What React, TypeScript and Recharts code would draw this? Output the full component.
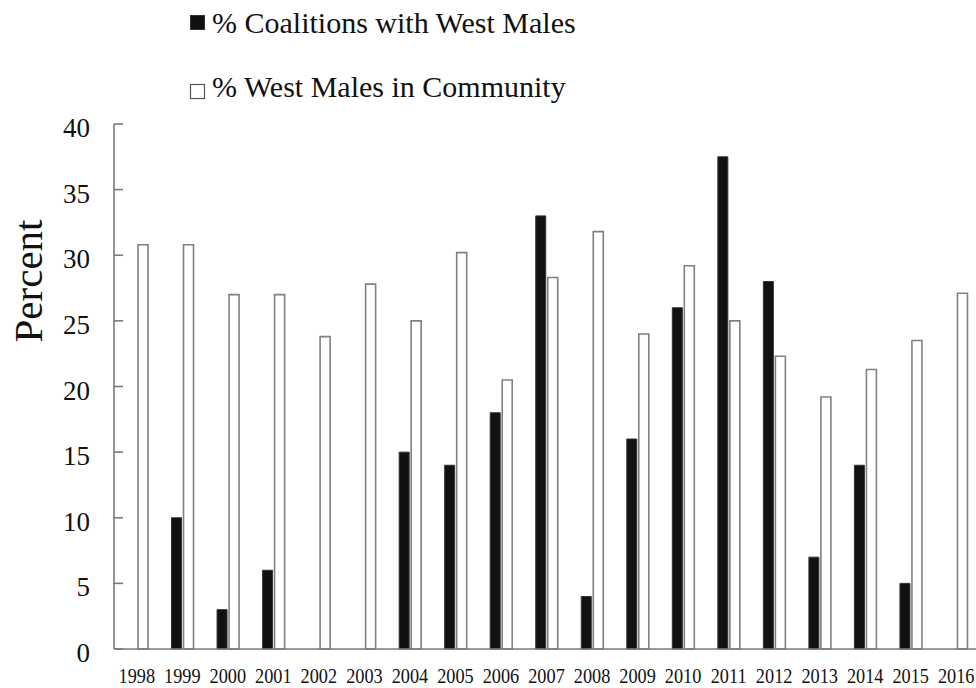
import React from 'react';
import { BarChart, Bar, XAxis, YAxis, Legend } from 'recharts';

const years = ['1998','1999','2000','2001','2002','2003','2004','2005','2006','2007','2008','2009','2010','2011','2012','2013','2014','2015','2016'];
const coalitionsWithWestMales = [0, 10, 3, 6, 0, 0, 15, 14, 18, 33, 4, 16, 26, 37.5, 28, 7, 14, 5, 0];
const westMalesInCommunity = [30.8, 30.8, 27.0, 27.0, 23.8, 27.8, 25.0, 30.2, 20.5, 28.3, 31.8, 24.0, 29.2, 25.0, 22.3, 19.2, 21.3, 23.5, 27.1];
const yTicks = [0, 5, 10, 15, 20, 25, 30, 35, 40];
const seriesNames = ['% Coalitions with West Males', '% West Males in Community'];

const data = years.map((y, i) => ({
  year: y,
  coalitions: coalitionsWithWestMales[i],
  community: westMalesInCommunity[i],
}));

const FONT = '"Liberation Serif", "Times New Roman", serif';
const AXIS = '#7a7a7a';

const YTick = (props: any) => {
  const { x, y, payload } = props;
  return (
    <g>
      <line x1={x} y1={y} x2={x + 9} y2={y} stroke={AXIS} strokeWidth={1.6} />
      <text x={x - 24} y={y + 13} textAnchor="end" fontSize={27} fontFamily={FONT} fill="#111">
        {payload.value}
      </text>
    </g>
  );
};

const XTick = (props: any) => {
  const { x, y, payload } = props;
  return (
    <g transform={`translate(${x},${y + 34})`}>
      <text transform="scale(0.87,1)" textAnchor="middle" fontSize={21} fontFamily={FONT} fill="#111">
        {payload.value}
      </text>
    </g>
  );
};

const LegendContent = () => (
  <svg width={600} height={110} style={{ display: 'block' }}>
    <rect x={190.5} y={15.5} width={14} height={14} fill="#111" stroke="#333" strokeWidth={1} />
    <text x={212} y={33} fontSize={30} fontFamily={FONT} fill="#111">{seriesNames[0]}</text>
    <rect x={190.5} y={84.5} width={14} height={14} fill="#fff" stroke="#555" strokeWidth={1.2} />
    <text x={212} y={97} fontSize={30} fontFamily={FONT} fill="#111">{seriesNames[1]}</text>
  </svg>
);

export default function App() {
  return (
    <div style={{ position: 'absolute', left: 0, top: 0, width: 976, height: 688, overflow: 'hidden', background: '#fff' }}>
      <BarChart
        width={990}
        height={688}
        data={data}
        margin={{ top: 124, right: 11, bottom: 0, left: 0 }}
        barSize={10}
        barGap={2}
      >
        <XAxis
          dataKey="year"
          height={39}
          tickLine={false}
          tickSize={0}
          tickMargin={0}
          axisLine={{ stroke: AXIS, strokeWidth: 1.6 }}
          tick={<XTick />}
          interval={0}
        />
        <YAxis
          width={114}
          domain={[0, 40]}
          ticks={yTicks}
          tickLine={false}
          tickSize={0}
          tickMargin={0}
          axisLine={{ stroke: AXIS, strokeWidth: 1.6 }}
          tick={<YTick />}
          interval={0}
          label={{
            content: () => (
              <text
                x={42}
                y={281}
                transform="rotate(-90, 42, 281)"
                textAnchor="middle"
                fontSize={41}
                fontFamily={FONT}
                fill="#111"
              >
                Percent
              </text>
            ),
          }}
        />
        <Legend
          layout="vertical"
          align="center"
          verticalAlign="middle"
          wrapperStyle={{ left: 0, top: 0, width: 600, height: 110 }}
          content={<LegendContent />}
        />
        <Bar dataKey="coalitions" name={seriesNames[0]} fill="#111" stroke="#333" strokeWidth={1} isAnimationActive={false} />
        <Bar dataKey="community" name={seriesNames[1]} fill="#fff" stroke="#808080" strokeWidth={1.6} isAnimationActive={false} />
      </BarChart>
    </div>
  );
}
